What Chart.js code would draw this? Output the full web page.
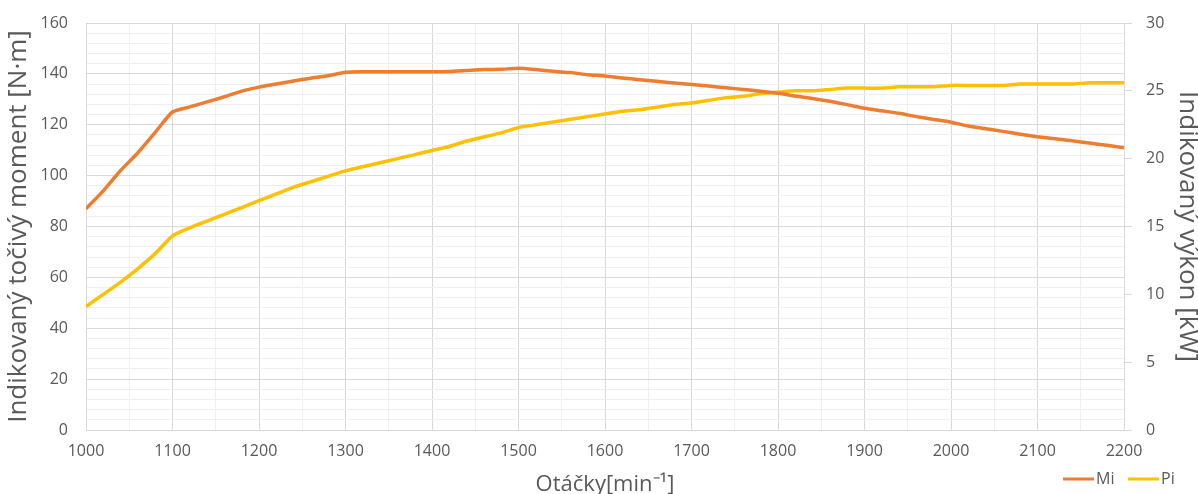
<!DOCTYPE html>
<html>
<head>
<meta charset="utf-8">
<script src="https://cdn.jsdelivr.net/npm/chart.js@4/dist/chart.umd.min.js"></script>
<style>
  html, body { margin: 0; padding: 0; background: #fff; }
  #wrap { width: 1198px; height: 494px; }
</style>
</head>
<body>
<div id="wrap"><canvas id="chart" width="1198" height="494"></canvas></div>
<script>
// rpm [min-1]
const rpm = [1000, 1020, 1040, 1060, 1080, 1100, 1120, 1140, 1160, 1180,
  1200, 1220, 1240, 1260, 1280, 1300, 1320, 1340, 1360, 1380,
  1400, 1420, 1440, 1460, 1480, 1500, 1520, 1540, 1560, 1580,
  1600, 1620, 1640, 1660, 1680, 1700, 1720, 1740, 1760, 1780,
  1800, 1820, 1840, 1860, 1880, 1900, 1920, 1940, 1960, 1980,
  2000, 2020, 2040, 2060, 2080, 2100, 2120, 2140, 2160, 2180, 2200];

// Mi - indicated torque [N·m]
const torqueMi = [87, 94, 102, 109, 117, 125, 127, 129, 131, 133.2,
  134.8, 136, 137.2, 138.3, 139.3, 140.6, 140.8, 140.8, 140.8, 140.8,
  140.8, 140.9, 141.3, 141.7, 141.8, 142.2, 141.7, 141, 140.5, 139.7,
  139.2, 138.4, 137.7, 137.1, 136.4, 135.8, 135.2, 134.5, 133.9, 133.2,
  132.4, 131.3, 130.3, 129.2, 127.9, 126.5, 125.5, 124.5, 123.2, 122.1,
  121, 119.5, 118.4, 117.4, 116.3, 115.3, 114.5, 113.7, 112.8, 111.9, 111];

// Pi - indicated power [kW]
const powerPi = [9.1, 10.0, 10.9, 11.9, 13.0, 14.3, 14.9, 15.4, 15.9, 16.4,
  16.9, 17.4, 17.9, 18.3, 18.7, 19.1, 19.4, 19.7, 20.0, 20.3,
  20.6, 20.9, 21.3, 21.6, 21.9, 22.3, 22.5, 22.7, 22.9, 23.1,
  23.3, 23.5, 23.6, 23.8, 24.0, 24.1, 24.3, 24.5, 24.6, 24.8,
  24.9, 25.0, 25.0, 25.1, 25.2, 25.2, 25.2, 25.3, 25.3, 25.3,
  25.4, 25.4, 25.4, 25.4, 25.5, 25.5, 25.5, 25.5, 25.6, 25.6, 25.6];

const seriesNames = ['Mi', 'Pi'];
const seriesColors = ['#ED7D31', '#FFC000'];

const textColor = '#595959';
const fontFamily = '"Open Sans", "Liberation Sans", sans-serif';
const majorGrid = '#d9d9d9';
const minorGrid = '#efefef';

// simple legend in the bottom right corner
const legendPlugin = {
  id: 'cornerLegend',
  afterDraw(chart) {
    const ctx = chart.ctx;
    const y = 479;
    let x = 1063;
    ctx.save();
    ctx.font = '16px ' + fontFamily;
    ctx.textBaseline = 'middle';
    seriesNames.forEach((name, i) => {
      ctx.strokeStyle = seriesColors[i];
      ctx.lineWidth = 3;
      ctx.beginPath();
      ctx.moveTo(x, y);
      ctx.lineTo(x + 31, y);
      ctx.stroke();
      ctx.fillStyle = textColor;
      ctx.fillText(name, x + 33, y);
      x += 65;
    });
    ctx.restore();
  }
};

// fixed axis sizes so the plot area lands where it is in the original
function fitY(width) {
  return scale => {
    scale.width = width;
    scale.paddingTop = 0;
    scale.paddingBottom = 0;
  };
}

const ctx = document.getElementById('chart').getContext('2d');
const chart = new Chart(ctx, {
  type: 'line',
  data: {
    datasets: [
      {
        label: seriesNames[0],
        data: rpm.map((r, i) => ({ x: r, y: torqueMi[i] })),
        borderColor: seriesColors[0],
        backgroundColor: seriesColors[0],
        borderWidth: 3.5,
        pointRadius: 0,
        tension: 0.2,
        yAxisID: 'y'
      },
      {
        label: seriesNames[1],
        data: rpm.map((r, i) => ({ x: r, y: powerPi[i] })),
        borderColor: seriesColors[1],
        backgroundColor: seriesColors[1],
        borderWidth: 3.5,
        pointRadius: 0,
        tension: 0.2,
        yAxisID: 'y1'
      }
    ]
  },
  options: {
    responsive: false,
    animation: false,
    devicePixelRatio: 1,
    layout: { padding: { top: 23, left: 0, right: 0, bottom: 0 } },
    plugins: {
      legend: { display: false },
      tooltip: { enabled: false }
    },
    scales: {
      x: {
        type: 'linear',
        min: 1000,
        max: 2200,
        afterFit(scale) { scale.height = 64; },
        ticks: {
          stepSize: 50,
          autoSkip: false,
          maxRotation: 0,
          padding: 12,
          color: textColor,
          font: { family: fontFamily, size: 16 },
          callback: v => (v % 100 === 0 ? v : '')
        },
        grid: {
          tickLength: 0,
          color: c => (c.tick && c.tick.value % 100 === 0 ? majorGrid : minorGrid)
        },
        border: { color: majorGrid },
        title: {
          display: true,
          text: 'Otáčky[min⁻¹]',
          color: textColor,
          font: { family: fontFamily, size: 22 },
          padding: { top: 0, bottom: -4 }
        }
      },
      y: {
        position: 'left',
        min: 0,
        max: 160,
        afterFit: fitY(86),
        ticks: {
          stepSize: 4,
          autoSkip: false,
          padding: 18,
          color: textColor,
          font: { family: fontFamily, size: 16 },
          callback: v => (v % 20 === 0 ? v : '')
        },
        grid: {
          tickLength: 0,
          color: c => (c.tick && c.tick.value % 20 === 0 ? majorGrid : minorGrid)
        },
        border: { color: majorGrid },
        title: {
          display: true,
          text: 'Indikovaný točivý moment [N·m]',
          color: textColor,
          font: { family: fontFamily, size: 26 },
          padding: { top: 3, bottom: 0 }
        }
      },
      y1: {
        position: 'right',
        min: 0,
        max: 30,
        afterFit: fitY(74),
        ticks: {
          stepSize: 5,
          padding: 14,
          color: textColor,
          font: { family: fontFamily, size: 16 }
        },
        grid: {
          drawOnChartArea: false,
          tickLength: 8,
          color: majorGrid
        },
        border: { color: majorGrid },
        title: {
          display: true,
          text: 'Indikovaný výkon [kW]',
          color: textColor,
          font: { family: fontFamily, size: 26 },
          padding: { top: -5, bottom: 0 }
        }
      }
    }
  },
  plugins: [legendPlugin]
});
</script>
</body>
</html>
